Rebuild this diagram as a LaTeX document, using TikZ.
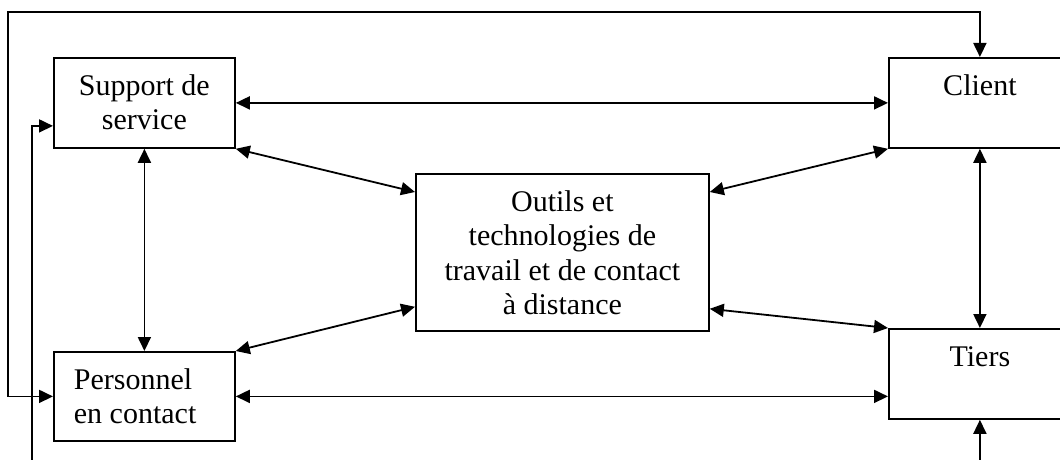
\documentclass[tikz,border=0pt]{standalone}
\usepackage{fontspec}
\setmainfont{Liberation Serif}
\usetikzlibrary{arrows.meta}
\tikzset{%
  myedge/.style={<->, line width=1.8pt, >={Triangle[length=14pt,width=13pt]}},
  mybox/.style={draw, line width=1.8pt, inner sep=0pt, anchor=north west,
    font=\fontsize{30}{34.5}\selectfont}
}
\newcommand{\boxtext}[4][\centering]{\parbox[c][#3][t]{#2}{#1\vspace*{13pt}\strut #4}}

\begin{document}
\begin{tikzpicture}[x=1pt, y=-1pt]
  \useasboundingbox (0,0) rectangle (1060,460);
  \clip (0,0) rectangle (1060,460);
  \node[mybox] (supp) at (53,57) {\boxtext{181pt}{90pt}{Support de\\service}};
  \node[mybox] (pers) at (53,351) {\boxtext[\raggedright\leftskip=20pt]{181pt}{89pt}{Personnel\\en contact}};
  \node[mybox] (outils) at (415,173) {\boxtext{293pt}{157pt}{Outils et\\technologies de\\travail et de contact\\à distance}};
  \node[mybox] (client) at (888,57) {\boxtext{182pt}{90pt}{Client}};
  \node[mybox] (tiers) at (888,328) {\boxtext{182pt}{90pt}{Tiers}};
  \coordinate (topleft) at (8,12);
  \coordinate (botleft) at (32,480);
  \draw [myedge] (supp.east) -- (client.west);
  \draw [myedge] (pers.east) -- (pers.east -| tiers.west);
  \draw [myedge] (supp.south) -- (pers.north);
  \draw [myedge] (client.south) -- (tiers.north);
  \draw [myedge] (supp.south east) -- ([yshift=-19pt]outils.north west);
  \draw [myedge] ([yshift=25pt]outils.south west) -- (pers.north east);
  \draw [myedge] ([yshift=-19pt]outils.north east) -- (client.south west);
  \draw [myedge] ([yshift=23pt]outils.south east) -- (tiers.north west);
  \draw [myedge] (pers.west) -| (topleft) -| (client.north);
  \draw [myedge] ([yshift=-23pt]supp.west) -| (botleft) -| (tiers.south);
\end{tikzpicture}
\end{document}
